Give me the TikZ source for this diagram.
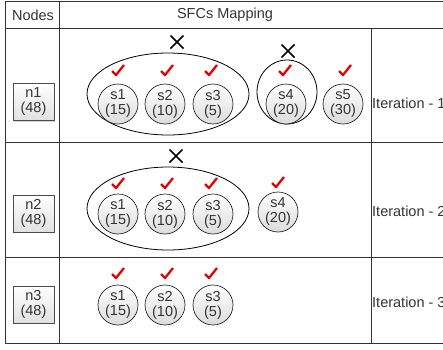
\documentclass[tikz,border=0pt]{standalone}
\usepackage{fontspec}
\setmainfont{Liberation Sans}
\usetikzlibrary{shadows}
\begin{document}
\begin{tikzpicture}[x=1pt,y=-1pt,
  every node/.style={font=\fontsize{14.5}{15}\selectfont, text=black!80},
  grid/.style={draw=black!80, line width=0.8pt},
  sfc/.style={circle, draw=black!85, line width=0.7pt, top color=white, bottom color=black!14,
    minimum size=40pt, inner sep=0pt, align=center},
  hostbox/.style={rectangle, draw=black!70, top color=white, bottom color=black!12,
    minimum width=41pt, minimum height=37pt, inner sep=0pt, align=center,
    drop shadow={shadow xshift=1.2pt, shadow yshift=-1.2pt, opacity=0.35}},
  grp/.style={draw=black, line width=0.8pt},
  itlabel/.style={anchor=west, inner sep=0pt},
  chk/.pic={\draw[red!90!black, line width=2.3pt, line join=round] (-6,0) -- (-2,4) -- (6,-6);},
  cross/.pic={\draw[black, line width=1.7pt] (-6.5,-6.5) -- (6.5,6.5) (-6.5,6.5) -- (6.5,-6.5);}
]
\useasboundingbox (0,0) rectangle (443,349);
\clip (0,0) rectangle (443,349);
% table
\draw[grid] (5,1) -- (443,1);
\draw[grid] (5,28) -- (443,28);
\draw[grid] (5,142) -- (443,142);
\draw[grid] (5,257) -- (443,257);
\draw[grid] (5,343) -- (443,343);
\draw[grid] (5,1) -- (5,343);
\draw[grid] (59,1) -- (59,343);
\draw[grid] (371,28) -- (371,343);
\node (hnodes) at (33,15) {Nodes};
\node (hsfc) at (225,15) {SFCs Mapping};

% row 1
\node[hostbox] (n1) at (33.5,102) {n1\\(48)};
\draw[grp] (168,94) ellipse [x radius=81, y radius=41];
\draw[grp] (287,92) ellipse [x radius=30, y radius=32];
\node[sfc] (r1s1) at (118,104) {s1\\(15)};
\node[sfc] (r1s2) at (165,104) {s2\\(10)};
\node[sfc] (r1s3) at (213,104) {s3\\(5)};
\node[sfc] (r1s4) at (286,104) {s4\\(20)};
\node[sfc] (r1s5) at (343,104) {s5\\(30)};
\pic at (118,71) {chk};
\pic at (167,71) {chk};
\pic at (211,71) {chk};
\pic at (285,71) {chk};
\pic at (345,71) {chk};
\pic at (177,42) {cross};
\pic at (288,51) {cross};
\node[itlabel] (it1) at (372,103) {Iteration - 1};

% row 2
\node[hostbox] (n2) at (33.5,213.5) {n2\\(48)};
\draw[grp] (168,208.5) ellipse [x radius=81, y radius=41.5];
\node[sfc] (r2s1) at (118,214) {s1\\(15)};
\node[sfc] (r2s2) at (165,214) {s2\\(10)};
\node[sfc] (r2s3) at (213,214) {s3\\(5)};
\node[sfc] (r2s4) at (278,212) {s4\\(20)};
\pic at (118,184) {chk};
\pic at (167,184) {chk};
\pic at (211,184) {chk};
\pic at (278,183) {chk};
\pic at (176,156) {cross};
\node[itlabel] (it2) at (372,211) {Iteration - 2};

% row 3
\node[hostbox] (n3) at (33.5,304.5) {n3\\(48)};
\node[sfc] (r3s1) at (118,305) {s1\\(15)};
\node[sfc] (r3s2) at (165,305) {s2\\(10)};
\node[sfc] (r3s3) at (213,305) {s3\\(5)};
\pic at (118,274) {chk};
\pic at (167,274) {chk};
\pic at (211,274) {chk};
\node[itlabel] (it3) at (372,302) {Iteration - 3};
\end{tikzpicture}
\end{document}
